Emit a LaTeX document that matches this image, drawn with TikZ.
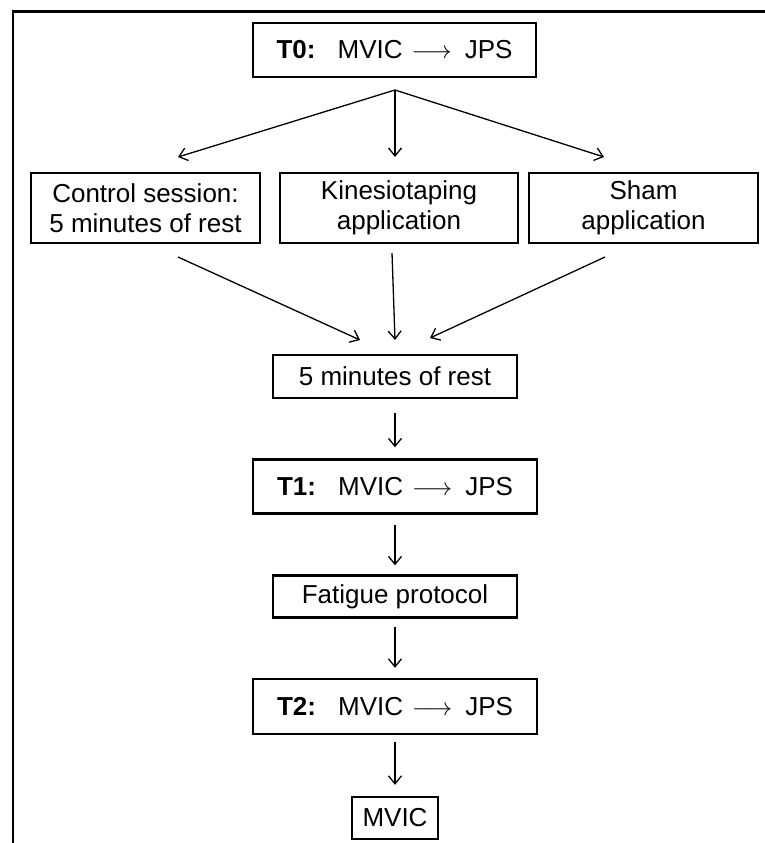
\documentclass[tikz,border=0pt]{standalone}
\usepackage{fontspec}
\setmainfont{Liberation Sans}
\usetikzlibrary{arrows.meta, positioning}
\tikzstyle{box} = [rectangle, draw=black, line width=2.3pt, inner sep=0pt, text centered, align=center, font=\fontsize{26}{30}\selectfont]
\tikzstyle{arrow} = [line width=1.3pt, -{Straight Barb[length=8pt,width=13pt]}]
\newcommand{\mvicjps}[1]{\textbf{#1:}\hspace{0.85em}MVIC\hspace{0.35em}$\longrightarrow$\hspace{0.5em}JPS}

\begin{document}
\begin{tikzpicture}[x=1pt, y=-1pt, node distance=110pt]

    \useasboundingbox (0,0) rectangle (765,843);
    \clip (0,0) rectangle (765,843);
    \draw [line width=2.3pt] (13,870) -- (13,11.5) -- (790,11.5);

    \node (t0) [box, minimum width=283pt, minimum height=54pt] at (394.5,50) {\mvicjps{T0}};
    \node (ctrl) [box, minimum width=229pt, minimum height=70pt] at (145.5,208) {Control session:\\5 minutes of rest};
    \node (kin) [box, minimum width=238pt, minimum height=70pt] at (399,208) {Kinesiotaping\\application};
    \node (sham) [box, minimum width=229pt, minimum height=70pt] at (643.5,208) {Sham\\application};
    \node (rest) [box, minimum width=244pt, minimum height=43pt] at (395,376.5) {5 minutes of rest};
    \node (t1) [box, minimum width=284pt, minimum height=54pt, below of=rest] {\mvicjps{T1}};
    \node (fat) [box, minimum width=244pt, minimum height=42pt, below of=t1] {Fatigue protocol};
    \node (t2) [box, minimum width=284pt, minimum height=55pt, below of=fat] {\mvicjps{T2}};
    \node (mvic) [box, minimum width=86pt, minimum height=42pt, below of=t2, node distance=111.5pt] {MVIC};

    % split below T0 and merge above the rest box
    \coordinate (split) at (395,90);
    \coordinate (ctrlin) at (178,157);
    \coordinate (kinin) at (395,157);
    \coordinate (shamin) at (604,157);
    \coordinate (ctrlout) at (178,257);
    \coordinate (kinout) at (392,253);
    \coordinate (shamout) at (605,257);
    \coordinate (restl) at (360,340);
    \coordinate (restm) at (395,340);
    \coordinate (restr) at (430,338);

    \draw [arrow] (split) -- (ctrlin);
    \draw [arrow] (split) -- (kinin);
    \draw [arrow] (split) -- (shamin);
    \draw [arrow] (ctrlout) -- (restl);
    \draw [arrow] (kinout) -- (restm);
    \draw [arrow] (shamout) -- (restr);

    \draw [arrow, shorten <=14pt, shorten >=11pt] (rest) -- (t1);
    \draw [arrow, shorten <=10pt, shorten >=9pt] (t1) -- (fat);
    \draw [arrow, shorten <=8pt, shorten >=10pt] (fat) -- (t2);
    \draw [arrow, shorten <=7pt, shorten >=11pt] (t2) -- (mvic);

\end{tikzpicture}
\end{document}
